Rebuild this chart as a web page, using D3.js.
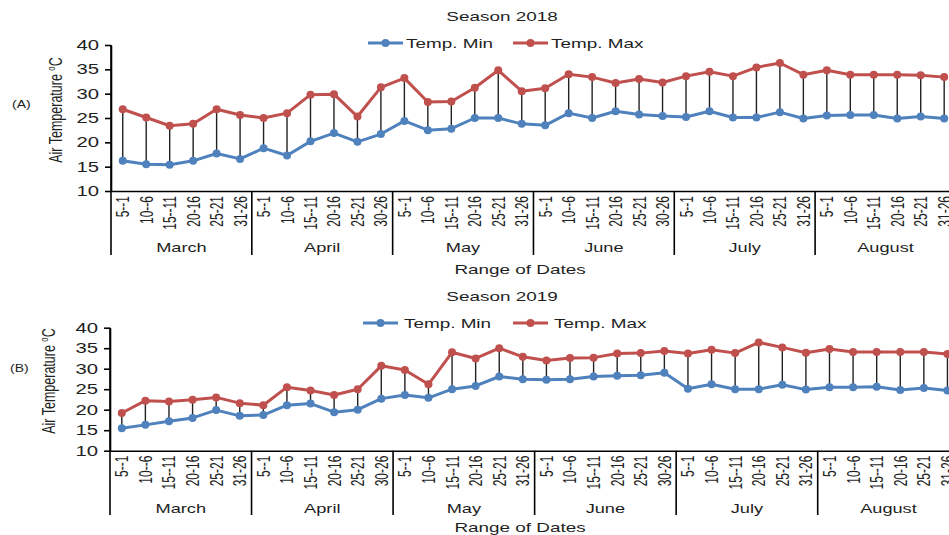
<!DOCTYPE html>
<html>
<head>
<meta charset="utf-8">
<script src="https://cdn.jsdelivr.net/npm/d3@7"></script>
<style>
  body { margin: 0; background: #fff; }
  svg { display: block; font-family: "Liberation Sans", Arial, sans-serif; }
</style>
</head>
<body>
<svg id="chart" width="949" height="535"></svg>
<script>
// Month groups and the date ranges inside each month
const months = ["March", "April", "May", "June", "July", "August"];
const periods = [
    ["5--1", "10--6", "15--11", "20-16", "25-21", "31-26"],
    ["5--1", "10--6", "15--11", "20-16", "25-21", "30-26"],
    ["5--1", "10--6", "15--11", "20-16", "25-21", "31-26"],
    ["5--1", "10--6", "15--11", "20-16", "25-21", "30-26"],
    ["5--1", "10--6", "15--11", "20-16", "25-21", "31-26"],
    ["5--1", "10--6", "15--11", "20-16", "25-21", "31-26"]
];
const yTicks = [10, 15, 20, 25, 30, 35, 40];

// Season 2018
const min2018 = [16.2, 15.5, 15.4, 16.2, 17.7, 16.6, 18.8, 17.3, 20.2, 21.9, 20.1, 21.7,
    24.4, 22.5, 22.8, 25.0, 25.0, 23.8, 23.5, 26.0, 25.0, 26.4, 25.7, 25.4,
    25.2, 26.4, 25.1, 25.1, 26.2, 24.9, 25.5, 25.6, 25.6, 24.9, 25.3, 24.9];
const max2018 = [26.8, 25.1, 23.4, 23.8, 26.8, 25.6, 25.0, 26.0, 29.8, 29.9, 25.3, 31.3,
    33.2, 28.3, 28.4, 31.2, 34.8, 30.5, 31.1, 34.0, 33.4, 32.2, 33.0, 32.3,
    33.6, 34.5, 33.6, 35.4, 36.3, 33.9, 34.8, 33.9, 33.9, 33.9, 33.8, 33.4];

// Season 2019
const min2019 = [15.5, 16.3, 17.2, 18.0, 19.9, 18.5, 18.7, 21.1, 21.5, 19.4, 20.0, 22.7,
    23.6, 22.9, 25.0, 25.8, 28.1, 27.4, 27.3, 27.4, 28.1, 28.3, 28.4, 29.0,
    25.1, 26.2, 25.0, 25.0, 26.1, 24.9, 25.5, 25.5, 25.6, 24.8, 25.3, 24.7];
const max2019 = [19.2, 22.2, 22.0, 22.4, 23.0, 21.6, 21.1, 25.5, 24.7, 23.6, 25.0, 30.7,
    29.7, 26.2, 34.0, 32.5, 35.0, 32.9, 32.0, 32.6, 32.7, 33.7, 33.8, 34.3,
    33.7, 34.6, 33.8, 36.4, 35.2, 33.9, 34.8, 34.1, 34.1, 34.1, 34.1, 33.6];

const labels = periods.flat();
const BLUE = "#4f81bd", RED = "#c0504d", INK = "#1f1f1f";
const SX = 1.4; // the source picture is stretched sideways, so is its text

const svg = d3.select("#chart");

// text that is stretched sideways like the source
function wideText(g, x, y, str, size, anchor) {
    return g.append("text")
        .attr("x", x / SX).attr("y", y)
        .attr("transform", `scale(${SX},1)`)
        .attr("text-anchor", anchor || "middle")
        .attr("font-size", size)
        .attr("fill", INK)
        .text(str);
}

function drawPanel(cfg) {
    const g = svg.append("g");
    const n = labels.length;

    const x = d3.scaleBand()
        .domain(d3.range(n))
        .range([cfg.x0, cfg.x0 + n * cfg.step]);
    const xMonth = d3.scaleBand()
        .domain(months)
        .range([cfg.x0, cfg.x0 + n * cfg.step]);
    const y = d3.scaleLinear().domain([10, 40]).range([cfg.yBot, cfg.yTop]);
    const cx = i => x(i) + x.bandwidth() / 2;

    // y axis
    const yAxis = g.append("g")
        .attr("transform", `translate(${cfg.x0},0)`)
        .call(d3.axisLeft(y).tickValues(yTicks).tickSize(6).tickSizeOuter(0).tickPadding(7));
    yAxis.selectAll("path, line").attr("stroke", "#000").attr("stroke-width", 1.6);
    yAxis.selectAll("text")
        .attr("x", -12 / SX)
        .attr("transform", `scale(${SX},1)`)
        .attr("font-size", 14.5)
        .attr("font-family", "Liberation Sans, Arial, sans-serif")
        .attr("fill", INK);

    // x axis with rotated date ranges
    const xAxis = g.append("g")
        .attr("transform", `translate(0,${cfg.yBot})`)
        .call(d3.axisBottom(x).tickSize(0).tickSizeOuter(0).tickFormat(i => labels[i]));
    xAxis.select(".domain").attr("stroke", "#000").attr("stroke-width", 1.6);
    xAxis.selectAll("text")
        .attr("x", -5).attr("y", 0).attr("dy", "0.36em")
        .attr("text-anchor", "end")
        .attr("transform", `scale(1.5,1) rotate(-90)`)
        .attr("font-size", 12)
        .attr("font-family", "Liberation Sans, Arial, sans-serif")
        .attr("fill", INK);

    // month separators and names
    months.concat(["end"]).forEach((m, k) => {
        const xs = cfg.x0 + k * 6 * cfg.step;
        g.append("line")
            .attr("x1", xs).attr("x2", xs)
            .attr("y1", k === 0 ? cfg.yTop : cfg.yBot).attr("y2", cfg.sepBottom)
            .attr("stroke", "#000").attr("stroke-width", 1.6);
    });
    months.forEach(m => {
        wideText(g, xMonth(m) + xMonth.bandwidth() / 2, cfg.monthY, m, 13);
    });

    // high-low lines between min and max
    g.append("g").selectAll("line")
        .data(d3.range(n))
        .join("line")
        .attr("x1", cx).attr("x2", cx)
        .attr("y1", i => y(cfg.min[i])).attr("y2", i => y(cfg.max[i]))
        .attr("stroke", "#222").attr("stroke-width", 1.4);

    // series lines and markers
    const line = d3.line().x((d, i) => cx(i)).y(d => y(d));
    [[cfg.min, BLUE], [cfg.max, RED]].forEach(([vals, col]) => {
        g.append("path")
            .datum(vals)
            .attr("d", line)
            .attr("fill", "none")
            .attr("stroke", col)
            .attr("stroke-width", 3)
            .attr("stroke-linejoin", "round");
        g.append("g").selectAll("circle")
            .data(vals)
            .join("circle")
            .attr("cx", (d, i) => cx(i))
            .attr("cy", d => y(d))
            .attr("r", 4)
            .attr("fill", col);
    });

    // title, axis titles, panel letter
    wideText(g, 502, cfg.titleY, cfg.title, 13.5);
    wideText(g, 520, cfg.xTitleY, "Range of Dates", 13.5);
    wideText(g, cfg.letterX, cfg.letterY, cfg.letter, 10, "start");

    const yt = g.append("text")
        .attr("transform", `translate(${cfg.yTitleX},${cfg.yTitleY}) scale(${SX},1) rotate(-90)`)
        .attr("text-anchor", "middle")
        .attr("font-size", 12.5)
        .attr("fill", INK);
    yt.append("tspan").text("Air Temperature ");
    yt.append("tspan").attr("font-size", 8).attr("dy", -5).text("o");
    yt.append("tspan").attr("dy", 5).text("C");

    // legend
    const legend = [
        { name: "Temp. Min", col: BLUE, x1: cfg.legX[0], x2: cfg.legX[1], tx: cfg.legX[2] },
        { name: "Temp. Max", col: RED, x1: cfg.legX[3], x2: cfg.legX[4], tx: cfg.legX[5] }
    ];
    legend.forEach(l => {
        g.append("line")
            .attr("x1", l.x1).attr("x2", l.x2)
            .attr("y1", cfg.legendY).attr("y2", cfg.legendY)
            .attr("stroke", l.col).attr("stroke-width", 3);
        g.append("circle")
            .attr("cx", (l.x1 + l.x2) / 2).attr("cy", cfg.legendY)
            .attr("r", 4).attr("fill", l.col);
        wideText(g, l.tx, cfg.legendY + 5, l.name, 13.5, "start");
    });
}

drawPanel({
    title: "Season 2018", letter: "(A)", min: min2018, max: max2018,
    x0: 111, step: 23.47, yTop: 45, yBot: 191, sepBottom: 255,
    monthY: 252, xTitleY: 274, titleY: 21, legendY: 43,
    legX: [368, 403, 406, 513, 548, 551],
    letterX: 12, letterY: 108, yTitleX: 62, yTitleY: 110
});

drawPanel({
    title: "Season 2019", letter: "(B)", min: min2019, max: max2019,
    x0: 110, step: 23.59, yTop: 327.7, yBot: 450.7, sepBottom: 515,
    monthY: 513, xTitleY: 532, titleY: 301, legendY: 323,
    legX: [363, 398, 404, 513, 548, 554],
    letterX: 10, letterY: 372, yTitleX: 55, yTitleY: 381
});
</script>
</body>
</html>
